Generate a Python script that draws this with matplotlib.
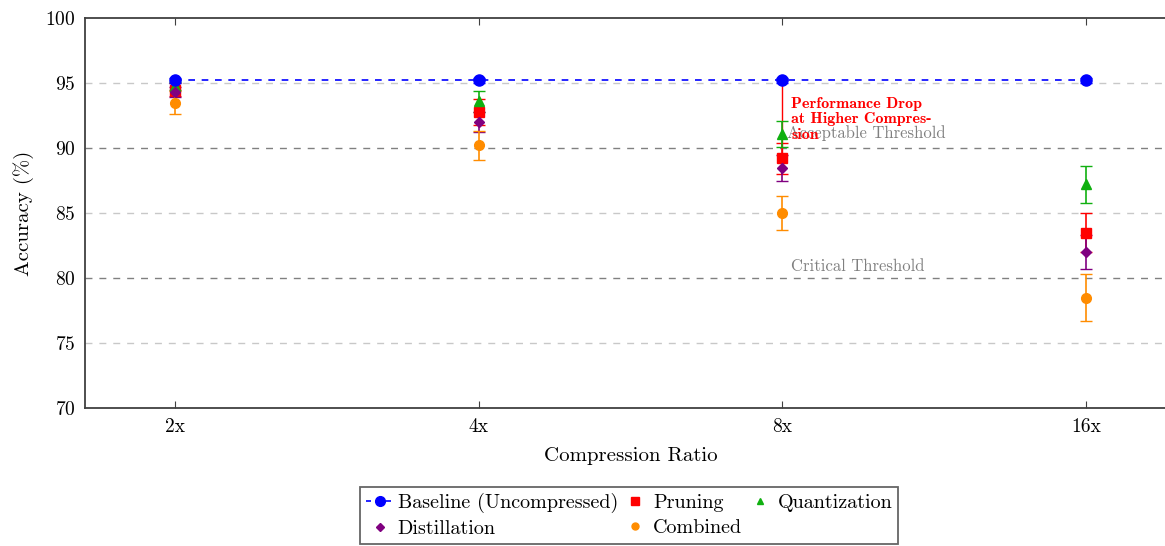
import matplotlib.pyplot as plt
from matplotlib.lines import Line2D
import numpy as np

plt.rcParams['font.family'] = ['cmr10', 'DejaVu Serif']
plt.rcParams['axes.formatter.use_mathtext'] = True
plt.rcParams['mathtext.fontset'] = 'cm'

ratios = ['2x', '4x', '8x', '16x']
baseline = [95.2, 95.2, 95.2, 95.2]
baseline_err = [0.2, 0.2, 0.2, 0.2]
pruning = [94.5, 92.8, 89.2, 83.5]
pruning_err = [0.5, 1.0, 1.2, 1.5]
quantization = [94.8, 93.6, 91.1, 87.2]
quantization_err = [0.3, 0.8, 1.0, 1.4]
distillation = [94.3, 92.0, 88.5, 82.0]
distillation_err = [0.4, 0.8, 1.0, 1.3]
combined = [93.5, 90.2, 85.0, 78.5]
combined_err = [0.9, 1.1, 1.3, 1.8]

x = np.arange(len(ratios))

fig = plt.figure(figsize=(11.65, 5.46), dpi=100)
ax = fig.add_axes([85 / 1165, 1 - 408 / 546, 1092 / 1165, 390 / 546])

# grid + thresholds
for yv in [75, 85, 95]:
    ax.axhline(yv, color='#c8c8c8', ls=(0, (5, 5)), lw=1.0, zorder=0)
ax.axhline(90, color='#808080', ls=(0, (5, 5)), lw=1.0, zorder=1)
ax.axhline(80, color='#808080', ls=(0, (5, 5)), lw=1.0, zorder=1)

ax.errorbar(x, baseline, yerr=baseline_err, color='blue', marker='o', ms=8,
            ls=(0, (4, 4)), lw=1.2, capsize=4, zorder=5)
ax.errorbar(x, pruning, yerr=pruning_err, color='red', marker='s', ms=7,
            ls='none', lw=1.2, capsize=4, zorder=4)
ax.errorbar(x, quantization, yerr=quantization_err, color='#10b010', marker='^', ms=7,
            ls='none', lw=1.2, capsize=4, zorder=4)
ax.errorbar(x, distillation, yerr=distillation_err, color='purple', marker='D', ms=5,
            ls='none', lw=1.2, capsize=4, zorder=4)
ax.errorbar(x, combined, yerr=combined_err, color='#ff8c00', marker='o', ms=7,
            ls='none', lw=1.2, capsize=4, zorder=4)

# annotation
ax.plot([x[2], x[2]], [baseline[2], pruning[2]], color='red', lw=1.0, zorder=3)
ax.text(x[2] + 0.03, 93.9, 'Performance Drop\nat Higher Compres-\nsion', color='red',
        fontsize=11.5, family=['cmb10', 'DejaVu Serif'], va='top', ha='left', linespacing=1.1, zorder=6)
ax.text(x[2] + 0.015, 91.15, 'Acceptable Threshold', color='#808080', fontsize=12,
        va='center', ha='left', zorder=2)
ax.text(x[2] + 0.03, 80.9, 'Critical Threshold', color='#808080', fontsize=12,
        va='center', ha='left', zorder=2)

ax.set_xlim(-0.297, 3.3)
ax.set_ylim(70, 100)
ax.set_xticks(x)
ax.set_xticklabels(ratios)
ax.set_yticks([70, 75, 80, 85, 90, 95, 100])
ax.tick_params(axis='x', direction='in', top=True, length=5, labelsize=14, pad=7, color='#404040')
ax.tick_params(axis='y', length=0, labelsize=14, pad=7)
for s in ax.spines.values():
    s.set_color('#404040')
    s.set_linewidth(1.3)
ax.set_xlabel('Compression Ratio', fontsize=15, labelpad=8)
ax.set_ylabel('Accuracy (%)', fontsize=15, labelpad=8)

# legend (row-wise order via column fill)
h_base = Line2D([], [], color='blue', ls=(0, (3, 3)), lw=1.2, marker='o', ms=7)
h_prun = Line2D([], [], color='red', ls='none', marker='s', ms=6)
h_quant = Line2D([], [], color='#10b010', ls='none', marker='^', ms=5)
h_dist = Line2D([], [], color='purple', ls='none', marker='D', ms=4)
h_comb = Line2D([], [], color='#ff8c00', ls='none', marker='o', ms=5)
handles = [h_base, h_dist, h_prun, h_comb, h_quant]
labels = ['Baseline (Uncompressed)', 'Distillation', 'Pruning', 'Combined', 'Quantization']
leg = fig.legend(handles, labels, loc='upper center', bbox_to_anchor=(0.5403, 0.108), ncol=3,
                 fontsize=14.5, frameon=True, fancybox=False, edgecolor='#404040',
                 handlelength=1.3, handletextpad=0.25, columnspacing=0.2, labelspacing=0.35,
                 borderpad=0.3, borderaxespad=0)
leg.get_frame().set_linewidth(1.3)

fig.savefig('out.png', dpi=100)
